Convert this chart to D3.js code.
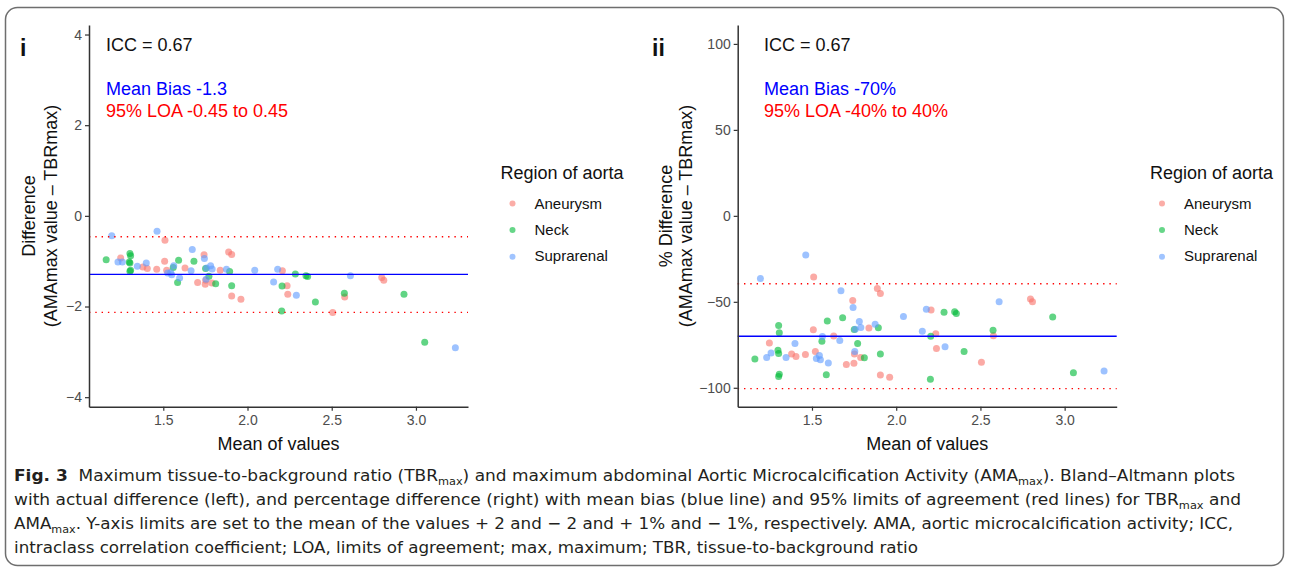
<!DOCTYPE html>
<meta charset="utf-8">
<script src="https://d3js.org/d3.v7.min.js"></script>
<style>
  body { margin: 0; background: #fff; }
  svg text { font-family: "Liberation Sans", Arial, sans-serif; }
</style>
<body>
<div id="my_dataviz"></div>
<script>
// values (mean of values, difference, % difference)
var regions = ["Aneurysm", "Neck", "Suprarenal"];
var regionColors = ["#F8766D", "#00BA38", "#619CFF"];

var aneurysmMean = [1.247, 1.379, 1.405, 1.461, 1.510, 1.508, 1.520, 1.629, 1.704, 1.742, 1.749, 1.752, 1.789,
  1.838, 1.888, 1.906, 1.906, 1.961, 2.207, 2.235, 2.239, 2.506, 2.577, 2.797, 2.809];
var aneurysmDiff = [-0.93, -1.13, -1.16, -1.18, -0.54, -1.00, -1.20, -1.15, -1.47, -0.86, -1.51, -1.42, -1.48,
  -1.20, -0.80, -0.85, -1.77, -1.84, -1.21, -1.54, -1.73, -2.13, -1.79, -1.36, -1.42];
var aneurysmPct = [-74.0, -80.4, -81.8, -80.6, -35.5, -66.3, -78.9, -69.9, -86.4, -49.2, -85.7, -80.4, -82.4,
  -65.3, -42.2, -45.2, -92.6, -93.8, -54.7, -68.6, -77.1, -85.1, -69.8, -48.4, -50.0];

var neckMean = [1.161, 1.302, 1.306, 1.298, 1.302, 1.306, 1.302, 1.559, 1.591, 1.585, 1.682, 1.751, 1.771,
  1.811, 1.894, 1.906, 2.205, 2.203, 2.284, 2.347, 2.357, 2.403, 2.575, 2.929, 3.052];
var neckDiff = [-0.97, -0.83, -0.88, -1.02, -1.04, -1.20, -1.22, -1.14, -0.98, -1.47, -1.00, -1.16, -1.33,
  -1.50, -1.23, -1.54, -1.55, -2.10, -1.28, -1.32, -1.34, -1.90, -1.71, -1.73, -2.79];
var neckPct = [-83.3, -63.8, -68.0, -78.1, -80.0, -92.1, -93.4, -72.9, -61.2, -92.4, -59.3, -66.1, -74.2,
  -82.6, -65.1, -80.4, -70.0, -95.0, -56.0, -55.8, -56.8, -78.9, -66.5, -58.9, -91.3];

var supraMean = [1.194, 1.231, 1.257, 1.346, 1.399, 1.463, 1.526, 1.544, 1.550, 1.562, 1.597, 1.665, 1.672,
  1.744, 1.757, 1.781, 1.790, 1.754, 1.875, 2.043, 2.155, 2.179, 2.290, 2.611, 3.234];
var supraDiff = [-0.44, -1.02, -1.02, -1.11, -1.04, -0.34, -1.26, -1.25, -1.30, -1.10, -1.37, -1.21, -0.74,
  -0.94, -1.15, -1.10, -1.17, -1.40, -1.18, -1.20, -1.46, -1.18, -1.75, -1.32, -2.91];
var supraPct = [-36.4, -82.4, -79.8, -82.4, -74.2, -22.7, -83.0, -81.2, -83.7, -70.2, -85.6, -72.5, -43.6,
  -53.3, -65.9, -61.4, -64.9, -78.9, -63.0, -58.5, -67.1, -54.3, -76.2, -50.0, -90.3];

// bias and limits of agreement lines
var diffBias = -1.29, diffLoa = [-0.46, -2.13];
var pctBias = -70, pctLoa = [-39.5, -100.5];

var diffTicks = [-4, -2, 0, 2, 4];
var pctTicks = [-100, -50, 0, 50, 100];
var meanTicks = [1.5, 2.0, 2.5, 3.0];

var means = [aneurysmMean, neckMean, supraMean];
var diffs = [aneurysmDiff, neckDiff, supraDiff];
var pcts = [aneurysmPct, neckPct, supraPct];

var svg = d3.select("#my_dataviz").append("svg")
  .attr("width", 1290).attr("height", 571);

// rounded frame around the figure
svg.append("rect")
  .attr("x", 5.5).attr("y", 7.5).attr("width", 1278).attr("height", 558)
  .attr("rx", 12).attr("fill", "none").attr("stroke", "#6e6e6e").attr("stroke-width", 1.5);

function drawPanel(p) {
  var x = d3.scaleLinear().domain([1.059, 3.309]).range([p.left, p.left + 379]);
  var y = d3.scaleLinear().domain(p.yDomain).range([406.7, 25]);
  var g = svg.append("g");

  // points (row order: aneurysm, neck, suprarenal)
  regions.forEach(function(r, i) {
    var rows = means[i].map(function(m, j) { return { m: m, v: p.values[i][j] }; });
    g.append("g").selectAll("circle")
      .data(rows).enter().append("circle")
        .attr("cx", function(d) { return x(d.m); })
        .attr("cy", function(d) { return y(d.v); })
        .attr("r", 3.5)
        .attr("fill", regionColors[i])
        .attr("fill-opacity", 0.62);
  });

  // mean bias
  g.append("line")
    .attr("x1", x.range()[0]).attr("x2", x.range()[1])
    .attr("y1", y(p.bias)).attr("y2", y(p.bias))
    .attr("stroke", "#0000ff").attr("stroke-width", 1.4);
  // limits of agreement
  p.loa.forEach(function(l) {
    g.append("line")
      .attr("x1", x.range()[0]).attr("x2", x.range()[1])
      .attr("y1", y(l)).attr("y2", y(l))
      .attr("stroke", "#ff0000").attr("stroke-width", 1.4)
      .attr("stroke-dasharray", "1.4,4.9");
  });

  // axes
  var ax = g.append("g").attr("transform", "translate(0,406.7)")
    .call(d3.axisBottom(x).tickValues(meanTicks).tickFormat(d3.format(".1f")).tickSize(4).tickSizeOuter(0).tickPadding(4));
  var ay = g.append("g").attr("transform", "translate(" + p.left + ",0)")
    .call(d3.axisLeft(y).tickValues(p.ticks).tickSize(4).tickSizeOuter(0).tickPadding(3));
  [ax, ay].forEach(function(a) {
    a.select(".domain").attr("stroke", "#333").attr("stroke-width", 1.5);
    a.selectAll(".tick line").attr("stroke", "#333").attr("stroke-width", 1.2);
    a.selectAll(".tick text").attr("fill", "#4d4d4d")
      .style("font-family", "Liberation Sans, Arial, sans-serif").style("font-size", "14px");
  });

  // axis titles
  g.append("text").attr("x", (x.range()[0] + x.range()[1]) / 2).attr("y", 450)
    .attr("text-anchor", "middle").attr("font-size", 18).attr("fill", "#111").text("Mean of values");
  p.yTitle.forEach(function(t, k) {
    g.append("text")
      .attr("transform", "translate(" + p.titleX[k] + ",216) rotate(-90)")
      .attr("text-anchor", "middle").attr("font-size", 18).attr("fill", "#111").text(t);
  });

  // panel tag
  g.append("text").attr("x", p.tagX).attr("y", 56)
    .attr("font-size", 23).attr("font-weight", "bold").attr("fill", "#111").text(p.tag);

  // annotations
  var tx = p.textX;
  g.append("text").attr("x", tx).attr("y", 51).attr("font-size", 18).attr("fill", "#111").text("ICC = 0.67");
  g.append("text").attr("x", tx).attr("y", 95).attr("font-size", 18).attr("fill", "#0000ff").text(p.biasText);
  g.append("text").attr("x", tx).attr("y", 117).attr("font-size", 18).attr("fill", "#ff0000").text(p.loaText);

  // legend
  var lg = g.append("g").attr("transform", "translate(" + p.legendX + ",0)");
  lg.append("text").attr("x", 0).attr("y", 179).attr("font-size", 18).attr("fill", "#111").text("Region of aorta");
  regions.forEach(function(r, i) {
    lg.append("circle").attr("cx", 12).attr("cy", 203.5 + i * 26.6).attr("r", 3)
      .attr("fill", regionColors[i]).attr("fill-opacity", 0.6);
    lg.append("text").attr("x", 34).attr("y", 209 + i * 26.2).attr("font-size", 15).attr("fill", "#111").text(r);
  });
}

drawPanel({
  left: 89, yDomain: [-4.21, 4.21], ticks: diffTicks, values: diffs,
  bias: diffBias, loa: diffLoa, tag: "i", tagX: 20, textX: 106,
  yTitle: ["Difference", "(AMAmax value \u2013 TBRmax)"], titleX: [35, 57],
  biasText: "Mean Bias -1.3", loaText: "95% LOA -0.45 to 0.45", legendX: 500.5
});
drawPanel({
  left: 737.7, yDomain: [-111, 111], ticks: pctTicks, values: pcts,
  bias: pctBias, loa: pctLoa, tag: "ii", tagX: 652, textX: 764,
  yTitle: ["% Difference", "(AMAmax value \u2013 TBRmax)"], titleX: [672, 692],
  biasText: "Mean Bias -70%", loaText: "95% LOA -40% to 40%", legendX: 1150
});

// caption
var captionLines = [
  [["Fig. 3", "b"], ["  Maximum tissue-to-background ratio (TBR"], ["max", "s"], [") and maximum abdominal Aortic Microcalcification Activity (AMA"], ["max", "s"], ["). Bland\u2013Altmann plots"]],
  [["with actual difference (left), and percentage difference (right) with mean bias (blue line) and 95% limits of agreement (red lines) for TBR"], ["max", "s"], [" and"]],
  [["AMA"], ["max", "s"], [". Y-axis limits are set to the mean of the values + 2 and \u2212 2 and + 1% and \u2212 1%, respectively. AMA, aortic microcalcification activity; ICC,"]],
  [["intraclass correlation coefficient; LOA, limits of agreement; max, maximum; TBR, tissue-to-background ratio"]]
];
var captionWidths = [1221, 1227, 1219, 904];

captionLines.forEach(function(line, i) {
  var t = svg.append("text")
    .attr("x", 14).attr("y", 481 + i * 24)
    .attr("fill", "#231f20")
    .style("font-family", "Liberation Sans Narrow, DejaVu Sans Condensed, Liberation Sans, sans-serif")
    .style("font-size", "16.5px")
    .attr("textLength", captionWidths[i]).attr("lengthAdjust", "spacingAndGlyphs");
  line.forEach(function(part, k) {
    var s = t.append("tspan").text(part[0]).attr("xml:space", "preserve");
    if (part[1] === "b") s.attr("font-weight", "bold");
    if (part[1] === "s") s.style("font-size", "11px").attr("dy", 4);
    else if (k > 0 && line[k - 1][1] === "s") s.attr("dy", -4);
  });
});
</script>
</body>
